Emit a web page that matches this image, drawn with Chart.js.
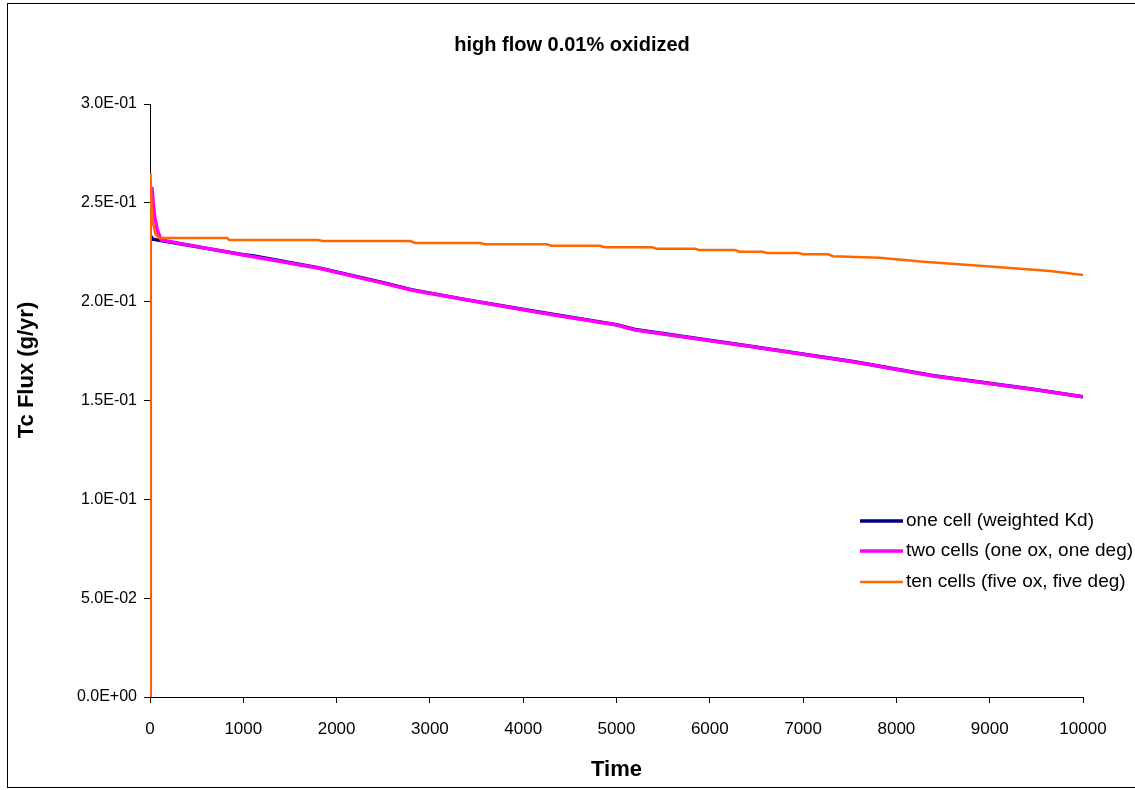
<!DOCTYPE html>
<html>
<head>
<meta charset="utf-8">
<title>high flow 0.01% oxidized</title>
<script src="https://cdn.jsdelivr.net/npm/chart.js@4.4.1/dist/chart.umd.min.js"></script>
<style>
  html, body { margin: 0; padding: 0; background: #fff; }
  canvas { display: block; }
</style>
</head>
<body>
<canvas id="fluxChart" width="1135" height="790"></canvas>
<script>
// Tc flux (g/yr) against time, three cell configurations
const seriesNames = [
  'one cell (weighted Kd)',
  'two cells (one ox, one deg)',
  'ten cells (five ox, five deg)'
];

const timeOne = [0, 3, 30, 1000, 1100, 1800, 2500, 2800, 3400, 4200, 5000, 5200, 6400, 7550, 8400, 9450, 10000];
const fluxOne = [0, 0.2335, 0.2316, 0.2238, 0.2232, 0.2172, 0.2096, 0.2061, 0.2009, 0.1945, 0.1884, 0.1859, 0.1777, 0.1696, 0.1625, 0.1558, 0.1519];

const timeTwo = [0, 3, 20, 35, 50, 80, 120, 1000, 1800, 2500, 2800, 3400, 4200, 5000, 5200, 6400, 7550, 8400, 9450, 10000];
const fluxTwo = [0, 0.240, 0.258, 0.250, 0.243, 0.236, 0.2312, 0.2236, 0.2170, 0.2094, 0.2059, 0.2008, 0.1943, 0.1882, 0.1857, 0.1776, 0.1695, 0.1624, 0.1557, 0.1519];

const timeTen = [0, 5, 15, 30, 60, 100, 825, 850, 1800, 1850, 2790, 2840, 3540, 3590, 4250, 4300, 4820, 4870,
  5380, 5430, 5840, 5890, 6270, 6320, 6560, 6610, 6950, 7000, 7270, 7320, 7820, 8290, 8930, 9650, 10000];
const fluxTen = [0, 0.265, 0.250, 0.240, 0.234, 0.2322, 0.2322, 0.2312, 0.2312, 0.2307, 0.2307, 0.2297, 0.2297, 0.2290,
  0.2290, 0.2283, 0.2283, 0.2275, 0.2275, 0.2268, 0.2268, 0.2261, 0.2261, 0.2253, 0.2253, 0.2246, 0.2246, 0.2240,
  0.2240, 0.2230, 0.2222, 0.2202, 0.2180, 0.2155, 0.2135];

const seriesColors = ['#000080', '#FF00FF', '#FF6600'];
const seriesWidths = [3.5, 3.5, 2.5];

const toPoints = (times, values) => times.map((t, i) => ({ x: t, y: values[i] }));

// Excel style scientific labels: 2.5E-01, 0.0E+00
const sciLabel = (v) => {
  if (Math.abs(v) < 1e-12) return '0.0E+00';
  let exp = Math.floor(Math.log10(Math.abs(v)) + 1e-9);
  const mant = (v / Math.pow(10, exp)).toFixed(1);
  const sign = exp < 0 ? '-' : '+';
  return mant + 'E' + sign + String(Math.abs(exp)).padStart(2, '0');
};

const FONT = "'Liberation Sans', Arial, sans-serif";

// frame, titles and legend drawn straight onto the canvas
const decorations = {
  id: 'decorations',
  beforeDraw(chart) {
    const ctx = chart.ctx;
    ctx.save();
    ctx.fillStyle = '#fff';
    ctx.fillRect(0, 0, chart.width, chart.height);
    ctx.strokeStyle = '#000';
    ctx.lineWidth = 1;
    ctx.strokeRect(7.5, 3.5, 1140, 784);
    ctx.restore();
  },
  afterDraw(chart) {
    const ctx = chart.ctx;
    const area = chart.chartArea;
    const cx = (area.left + area.right) / 2;
    ctx.save();
    ctx.fillStyle = '#000';
    ctx.textAlign = 'center';
    ctx.textBaseline = 'middle';

    // chart title sits over the whole chart, not just the plot
    ctx.font = 'bold 20px ' + FONT;
    ctx.fillText('high flow 0.01% oxidized', 572, 45);

    ctx.font = 'bold 22px ' + FONT;
    ctx.fillText('Time', cx, 770);

    ctx.translate(27, 370);
    ctx.rotate(-Math.PI / 2);
    ctx.fillText('Tc Flux (g/yr)', 0, 0);
    ctx.restore();

    // legend
    ctx.save();
    ctx.font = '19px ' + FONT;
    ctx.textAlign = 'left';
    ctx.textBaseline = 'middle';
    const rows = [521, 551, 582];
    seriesNames.forEach((name, i) => {
      ctx.strokeStyle = seriesColors[i];
      ctx.lineWidth = seriesWidths[i];
      ctx.beginPath();
      ctx.moveTo(860, rows[i]);
      ctx.lineTo(903, rows[i]);
      ctx.stroke();
      ctx.fillStyle = '#000';
      ctx.fillText(name, 906, rows[i]);
    });
    ctx.restore();
  }
};

const datasets = [
  toPoints(timeOne, fluxOne),
  toPoints(timeTwo, fluxTwo),
  toPoints(timeTen, fluxTen)
].map((pts, i) => ({
  label: seriesNames[i],
  data: pts,
  borderColor: seriesColors[i],
  backgroundColor: seriesColors[i],
  borderWidth: seriesWidths[i],
  pointRadius: 0,
  tension: 0,
  fill: false,
  order: 3 - i
}));

new Chart(document.getElementById('fluxChart'), {
  type: 'line',
  data: { datasets },
  options: {
    responsive: false,
    animation: false,
    layout: { padding: { left: 0, right: 52, top: 104, bottom: 0 } },
    plugins: {
      legend: { display: false },
      title: { display: false },
      tooltip: { enabled: false }
    },
    scales: {
      x: {
        type: 'linear',
        min: 0,
        max: 10000,
        afterFit: (scale) => { scale.height = 93; },
        ticks: {
          stepSize: 1000,
          color: '#000',
          padding: 16,
          font: { family: FONT, size: 17 },
          maxRotation: 0,
          callback: (v) => String(v)
        },
        grid: { drawOnChartArea: false, drawTicks: true, tickLength: 6, color: '#000' },
        border: { display: true, color: '#000', width: 1 }
      },
      y: {
        min: 0,
        max: 0.3,
        afterFit: (scale) => { scale.width = 150; },
        ticks: {
          stepSize: 0.05,
          color: '#000',
          padding: 7,
          font: { family: FONT, size: 16 },
          callback: (v) => sciLabel(v)
        },
        grid: { drawOnChartArea: false, drawTicks: true, tickLength: 6, color: '#000' },
        border: { display: true, color: '#000', width: 1 }
      }
    }
  },
  plugins: [decorations]
});
</script>
</body>
</html>
